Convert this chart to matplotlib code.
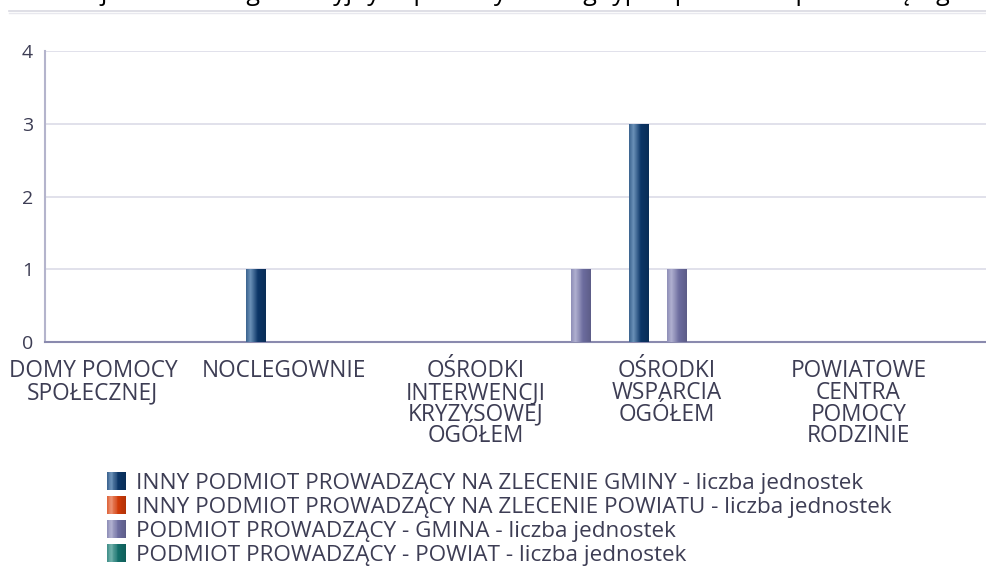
import numpy as np
import matplotlib
matplotlib.use("Agg")
import matplotlib.pyplot as plt
from matplotlib.colors import LinearSegmentedColormap, to_rgb
from matplotlib.patches import Patch, Rectangle
from matplotlib.lines import Line2D
from matplotlib.legend_handler import HandlerBase

# ---- data ----
categories = [
    "DOMY POMOCY\nSPOŁECZNEJ",
    "KLUBY SAMOPOMOCY",
    "NOCLEGOWNIE",
    "OŚRODKI ADOPCYJNE",
    "OŚRODKI\nINTERWENCJI\nKRYZYSOWEJ\nOGÓŁEM",
    "OŚRODKI POMOCY SPOŁECZNEJ",
    "OŚRODKI\nWSPARCIA\nOGÓŁEM",
    "PLACÓWKI OPIEKUŃCZO-WYCHOWAWCZE",
    "POWIATOWE\nCENTRA\nPOMOCY\nRODZINIE",
    "ŚRODOWISKOWE DOMY SAMOPOMOCY",
]
series_names = [
    "INNY PODMIOT PROWADZĄCY NA ZLECENIE GMINY - liczba jednostek",
    "INNY PODMIOT PROWADZĄCY NA ZLECENIE POWIATU - liczba jednostek",
    "PODMIOT PROWADZĄCY - GMINA - liczba jednostek",
    "PODMIOT PROWADZĄCY - POWIAT - liczba jednostek",
]
inny_gmina = [0, 0, 1, 0, 0, 0, 3, 0, 0, 0]
inny_powiat = [0, 0, 0, 0, 0, 0, 0, 0, 0, 0]
gmina = [0, 0, 0, 0, 0, 1, 1, 0, 0, 0]
powiat = [0, 0, 0, 0, 0, 0, 0, 0, 0, 0]
y_ticks = [0, 1, 2, 3, 4]
title = "Liczba jednostek organizacyjnych pomocy według typu i podmiotu prowadzącego"

series = [inny_gmina, inny_powiat, gmina, powiat]
base_colors = ["#0b3566", "#cf3a08", "#6d6d9f", "#136e69"]
light_colors = ["#6b91b8", "#ec8f6f", "#b0b0d0", "#6fb0aa"]

plt.rcParams["font.family"] = ["Open Sans", "DejaVu Sans"]
TXT = "#3d3d54"

W, H = 987, 569
fig = plt.figure(figsize=(W / 100, H / 100), dpi=100)
ax = fig.add_axes([45 / W, 1 - 342 / H, 1 - 45 / W, (342 - 51) / H])

x = np.arange(len(categories))
width = 0.2

def grad_cmap(base, light):
    b = np.array(to_rgb(base)); l = np.array(to_rgb(light))
    return LinearSegmentedColormap.from_list(
        "g", [(0.0, (b + l) / 2), (0.22, l), (0.6, b), (1.0, b * 0.85)])

cmaps = [grad_cmap(base_colors[i], light_colors[i]) for i in range(4)]

for i, vals in enumerate(series):
    bars = ax.bar(x + (i - 1.5) * width, vals, width, color=base_colors[i],
                  linewidth=0, zorder=3)
    for b in bars:
        if b.get_height() <= 0:
            continue
        x0, w0, h0 = b.get_x(), b.get_width(), b.get_height()
        im = ax.imshow(np.linspace(0, 1, 64)[None, :], cmap=cmaps[i],
                       aspect="auto", extent=(x0, x0 + w0, 0, h0), zorder=4,
                       interpolation="bilinear")
        im.set_clip_path(b)
ax.set_xlim(-0.5, 9.5 - 15 / 95.7)
ax.set_ylim(0, 4)

ax.set_yticks(y_ticks)
ax.grid(axis="y", color="#dcdbe8", linewidth=1.2, zorder=0)
ax.set_axisbelow(True)
for s in ["top", "right"]:
    ax.spines[s].set_visible(False)
ax.spines["left"].set_color("#b4b4cc")
ax.spines["left"].set_linewidth(1.5)
ax.spines["bottom"].set_color("#8a8aae")
ax.spines["bottom"].set_linewidth(1.5)
ax.tick_params(axis="y", length=0, pad=8.5, labelsize=14, labelcolor=TXT)
ax.tick_params(axis="x", length=0, pad=12.5, labelsize=16.3, labelcolor=TXT)
ax.set_xticks(x)
ax.set_xticklabels([c if k % 2 == 0 else "" for k, c in enumerate(categories)],
                   linespacing=0.87)

# cut-off title and separator line at the top
fig.text(0.5, 1 + 0.5 / H, title, ha="center", va="baseline", fontsize=18,
         color="black")
fig.add_artist(Line2D([9 / W, 1], [1 - 11 / H, 1 - 11 / H], color="#d9d9e2",
                      linewidth=1.2))
fig.add_artist(Line2D([9 / W, 1], [1 - 13 / H, 1 - 13 / H], color="#e8e8ee",
                      linewidth=1.0))


class GradientHandler(HandlerBase):
    def create_artists(self, legend, orig_handle, xdescent, ydescent, width,
                       height, fontsize, trans):
        cm = orig_handle.cmap_
        n = 24
        step = width / n
        arts = []
        for k in range(n):
            w = step * 2.0 if k < n - 1 else step
            r = Rectangle((-xdescent + step * k, -ydescent), w, height,
                          facecolor=cm((k + 0.5) / n), edgecolor="none",
                          linewidth=0, antialiased=False, transform=trans)
            arts.append(r)
        return arts


handles = []
for i in range(4):
    p = Patch(facecolor=base_colors[i], edgecolor="none")
    p.cmap_ = cmaps[i]
    handles.append(p)
fig.legend(handles, series_names, loc="upper left",
           bbox_to_anchor=(107 / W, 1 - 472 / H), frameon=False,
           fontsize=16.2, labelcolor=TXT, handlelength=0.85, handleheight=0.85,
           handletextpad=0.42, labelspacing=0.1, borderaxespad=0,
           borderpad=0, handler_map={Patch: GradientHandler()})

fig.savefig("out.png", dpi=100)
